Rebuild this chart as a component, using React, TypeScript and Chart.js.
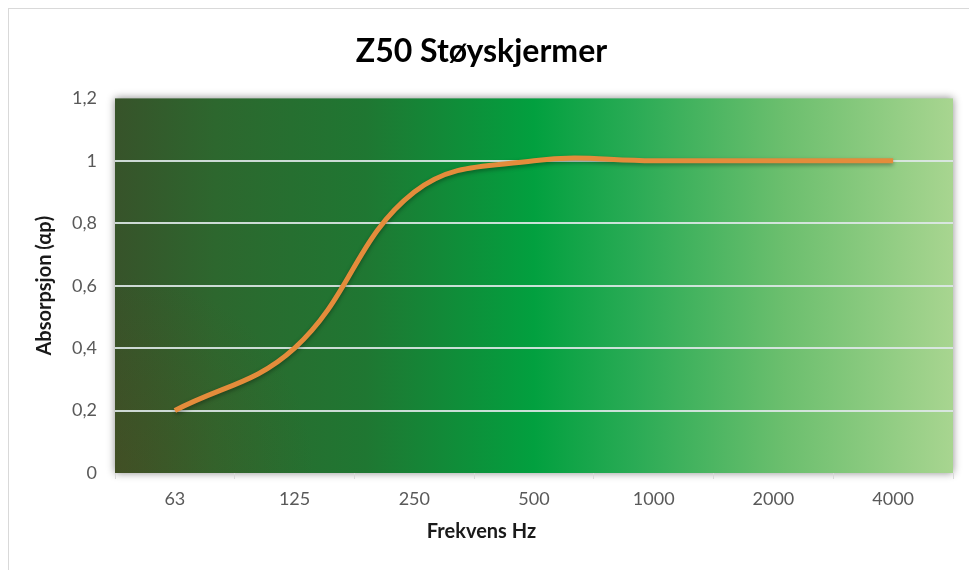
import React, { useEffect, useRef } from "react";
import { Chart, registerables } from "chart.js";

Chart.register(...registerables);

const categories = ["63", "125", "250", "500", "1000", "2000", "4000"];
const absorption = [0.2, 0.4, 0.9, 1.0, 1.0, 1.0, 1.0];
const yTicks = [0, 0.2, 0.4, 0.6, 0.8, 1, 1.2];
const chartTitle = "Z50 Støyskjermer";
const xTitle = "Frekvens Hz";
const yTitle = "Absorpsjon (αp)";

const FONT = "Lato, 'Open Sans', sans-serif";

const backgroundPlugin = {
  id: "plotBackground",
  beforeDraw(chart: any) {
    const { ctx, chartArea } = chart;
    const { left, top, right, bottom } = chartArea;
    ctx.save();
    ctx.strokeStyle = "#d9d9d9";
    ctx.lineWidth = 1;
    ctx.strokeRect(8.5, 8.5, 2000, 2000);
    const g = ctx.createLinearGradient(left, 0, right, 0);
    g.addColorStop(0, "#37532a");
    g.addColorStop(0.12, "#2d672e");
    g.addColorStop(0.3, "#1f7732");
    g.addColorStop(0.5, "#02a03f");
    g.addColorStop(0.62, "#2aab55");
    g.addColorStop(0.8, "#6cbf6e");
    g.addColorStop(1, "#a8d590");
    ctx.shadowColor = "rgba(0,0,0,0.45)";
    ctx.shadowBlur = 8;
    ctx.fillStyle = g;
    ctx.fillRect(left, top, right - left, bottom - top);
    ctx.shadowColor = "transparent";
    ctx.shadowBlur = 0;
    const r = ctx.createRadialGradient(left, bottom, 0, left, bottom, 200);
    r.addColorStop(0, "rgba(90,70,25,0.3)");
    r.addColorStop(1, "rgba(90,70,25,0)");
    ctx.fillStyle = r;
    ctx.fillRect(left, top, right - left, bottom - top);
    ctx.restore();
  },
  beforeDatasetDraw(chart: any) {
    const ctx = chart.ctx;
    ctx.save();
    ctx.shadowColor = "rgba(0,0,0,0.35)";
    ctx.shadowBlur = 4;
    ctx.shadowOffsetY = 2;
  },
  afterDatasetDraw(chart: any) {
    chart.ctx.restore();
  },
};

export default function App() {
  const canvasRef = useRef<HTMLCanvasElement | null>(null);

  useEffect(() => {
    if (!canvasRef.current) return;
    const chart = new Chart(canvasRef.current, {
      type: "line",
      data: {
        labels: categories,
        datasets: [
          {
            data: absorption,
            borderColor: "#e48c3b",
            borderWidth: 5,
            pointRadius: 0,
            tension: 0.4,
            fill: false,
          },
        ],
      },
      plugins: [backgroundPlugin],
      options: {
        responsive: false,
        animation: false,
        layout: { padding: { left: 10, right: 16, top: 0, bottom: 0 } },
        plugins: {
          legend: { display: false },
          tooltip: { enabled: false },
          title: {
            display: true,
            text: chartTitle,
            color: "#000000",
            font: { family: FONT, size: 32, weight: "bold" },
            padding: { top: 32, bottom: 28 },
          },
          subtitle: {
            display: true,
            position: "bottom",
            text: xTitle,
            color: "#1a1a1a",
            font: { family: FONT, size: 20, weight: "bold" },
            padding: { top: 7, bottom: 26 },
          },
        },
        scales: {
          x: {
            offset: true,
            afterFit: (scale: any) => {
              scale.height = 40;
            },
            grid: {
              offset: true,
              drawOnChartArea: false,
              drawTicks: true,
              tickLength: 6,
              color: "#d9d9d9",
            },
            border: { display: false },
            ticks: {
              color: "#595959",
              font: { family: FONT, size: 18 },
              padding: 9,
              maxRotation: 0,
            },
          },
          y: {
            min: 0,
            max: 1.2,
            afterFit: (scale: any) => {
              scale.width = 105;
            },
            afterBuildTicks: (scale: any) => {
              scale.ticks = yTicks.map((v) => ({ value: v }));
            },
            grid: {
              drawTicks: false,
              lineWidth: 2,
              color: (ctx: any) => {
                const v = ctx.tick ? ctx.tick.value : null;
                if (v === 0 || v === 1.2) return "rgba(0,0,0,0)";
                return "rgba(222,232,232,0.9)";
              },
            },
            border: { display: false },
            ticks: {
              color: "#595959",
              font: { family: FONT, size: 18 },
              padding: 18,
              callback: (v: any) => String(Number(Number(v).toFixed(1))).replace(".", ","),
            },
            title: {
              display: true,
              text: yTitle,
              color: "#1a1a1a",
              font: { family: FONT, size: 20, weight: "bold" },
              padding: 23,
            },
          },
        },
      },
    });
    return () => chart.destroy();
  }, []);

  return (
    <div style={{ position: "absolute", left: 0, top: 0, width: 969, height: 570, background: "#ffffff" }}>
      <canvas ref={canvasRef} width={969} height={570} />
    </div>
  );
}
